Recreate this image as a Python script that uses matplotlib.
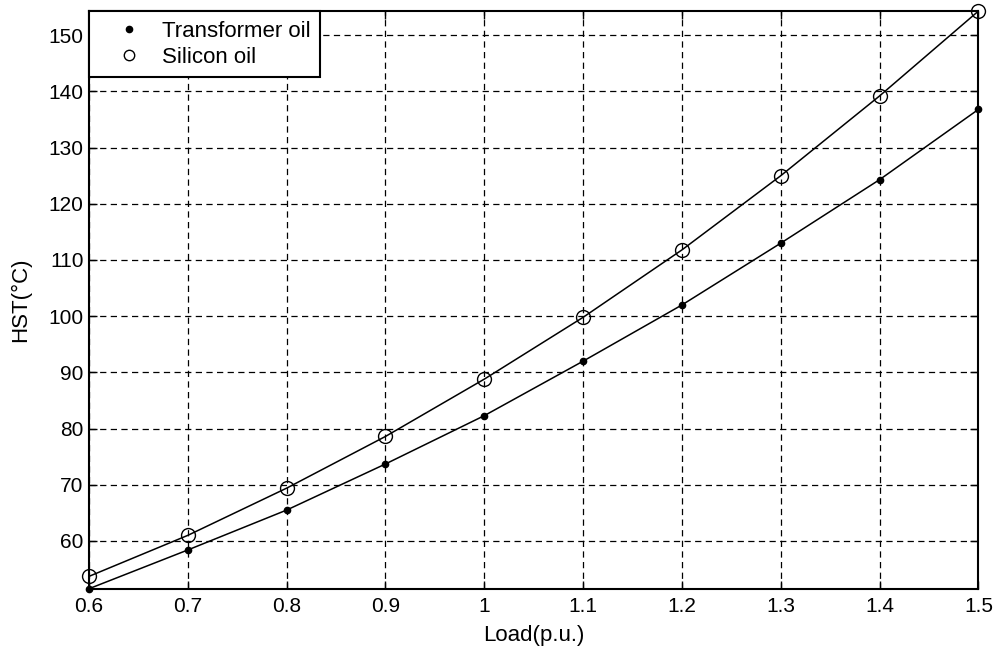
import matplotlib
matplotlib.use("Agg")
import matplotlib.pyplot as plt
import numpy as np

load = [0.6, 0.7, 0.8, 0.9, 1.0, 1.1, 1.2, 1.3, 1.4, 1.5]
transformer_oil = [51.5, 58.4, 65.5, 73.7, 82.3, 92.0, 102.0, 113.0, 124.3, 136.8]
silicon_oil = [53.7, 61.0, 69.4, 78.6, 88.8, 99.8, 111.8, 125.0, 139.2, 154.3]
xticks = [0.6, 0.7, 0.8, 0.9, 1, 1.1, 1.2, 1.3, 1.4, 1.5]
xticklabels = ["0.6", "0.7", "0.8", "0.9", "1", "1.1", "1.2", "1.3", "1.4", "1.5"]
yticks = [60, 70, 80, 90, 100, 110, 120, 130, 140, 150]

plt.rcParams['font.family'] = ['Liberation Sans', 'DejaVu Sans']
fig = plt.figure(figsize=(9.95, 6.48), dpi=100)
ax = fig.add_axes([0.0894, 0.091, 0.894, 0.892])

ax.plot(load, transformer_oil, color='black', lw=1.1)
ax.plot(load, silicon_oil, color='black', lw=1.1)
ax.plot(load, transformer_oil, ls='none', marker='o', ms=4.5, color='black', label='Transformer oil', clip_on=False)
ax.plot(load, silicon_oil, ls='none', marker='o', ms=10, mfc='none', mec='black', mew=1.0, label='Silicon oil', clip_on=False)

ax.set_xlim(0.6, 1.5)
ax.set_ylim(51.45, 154.3)
ax.set_xticks(xticks)
ax.set_xticklabels(xticklabels)
ax.set_yticks(yticks)
ax.tick_params(direction='in', top=True, right=True, labelsize=15, length=6, width=1, pad=4)
ax.tick_params(axis='x', pad=6)
ax.grid(True, ls=(0, (5, 3.5)), color='black', lw=0.9)
for s in ax.spines.values():
    s.set_linewidth(1.5)
ax.set_xlabel('Load(p.u.)', fontsize=16, labelpad=6)
ax.set_ylabel('HST(°C)', fontsize=16, labelpad=12)

leg = ax.legend(loc='upper left', fontsize=16, frameon=True, fancybox=False,
                borderaxespad=0, handletextpad=0.1, borderpad=0.43, labelspacing=0.23,
                handlelength=2.75)
leg.get_frame().set_edgecolor('black')
leg.get_frame().set_linewidth(1.5)
leg.get_frame().set_alpha(1)
leg.legend_handles[1].set_markersize(7.5)
leg.legend_handles[0].set_markersize(4.5)

fig.savefig('out.png', dpi=100)
